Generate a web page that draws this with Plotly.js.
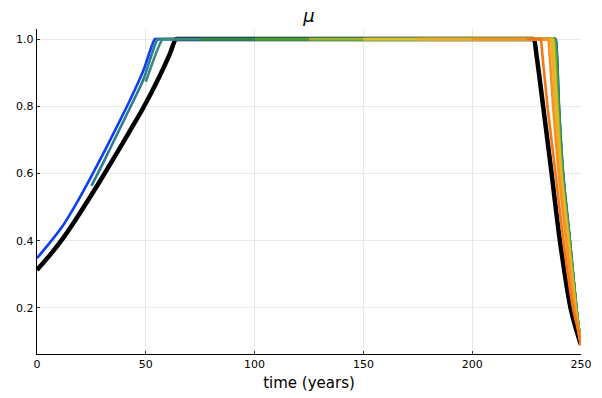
<!DOCTYPE html>
<html>
<head>
<meta charset="utf-8">
<script src="https://cdn.plot.ly/plotly-3.0.1.min.js"></script>
<style>html,body{margin:0;padding:0;background:#fff;}#chart{width:602px;height:398px;}</style>
</head>
<body>
<div id="chart"></div>
<script>
// Reference (black) path
const blackT = [0, 6, 12, 18.2, 24.4, 30.5, 36.6, 42.7, 48.8, 56, 61, 63.8, 65, 227.3, 228.3, 229.6, 232.6, 236.5, 240.3, 245.2, 247.6, 250];
const blackV = [0.313, 0.358, 0.408, 0.467, 0.53, 0.594, 0.66, 0.727, 0.795, 0.885, 0.955, 1, 1, 1, 1, 0.95, 0.8, 0.6, 0.4, 0.2, 0.14, 0.09];

// Paths started at different years
const s0T = [0, 6, 12.1, 18.2, 24.4, 30.5, 36.6, 42.7, 48.8, 54.2, 55.2, 237.3, 238.3, 239.0, 239.9, 241.8, 244.9, 247.9, 249, 250];
const s0V = [0.348, 0.395, 0.447, 0.512, 0.585, 0.66, 0.738, 0.818, 0.905, 1, 1, 1, 1, 0.95, 0.8, 0.6, 0.4, 0.2, 0.14, 0.09];
const s25T = [25, 30.8, 36.6, 42.7, 48.8, 55.5, 56.5, 237.2, 238.2, 238.9, 239.85, 241.75, 244.9, 247.9, 249, 250];
const s25V = [0.563, 0.637, 0.714, 0.795, 0.878, 1, 1, 1, 1, 0.95, 0.8, 0.6, 0.4, 0.2, 0.14, 0.09];
const s50T = [50, 57.8, 58.8, 237.1, 238.1, 238.8, 239.8, 241.7, 244.85, 247.9, 249, 250];
const s50V = [0.873, 1, 1, 1, 1, 0.95, 0.8, 0.6, 0.4, 0.2, 0.14, 0.09];
const s75T = [75, 236.9, 237.9, 238.6, 239.7, 241.6, 244.8, 247.85, 248.95, 250];
const s75V = [1, 1, 1, 0.95, 0.8, 0.6, 0.4, 0.2, 0.14, 0.09];
const s100T = [100, 236.7, 237.7, 238.4, 239.5, 241.4, 244.7, 247.8, 248.9, 250];
const s100V = [1, 1, 1, 0.95, 0.8, 0.6, 0.4, 0.2, 0.14, 0.09];
const s125T = [125, 236.3, 237.3, 238.0, 239.2, 241.2, 244.5, 247.7, 248.9, 250];
const s125V = [1, 1, 1, 0.95, 0.8, 0.6, 0.4, 0.2, 0.14, 0.09];
const s150T = [150, 235.8, 236.8, 237.5, 238.8, 240.9, 244.2, 247.5, 248.8, 250];
const s150V = [1, 1, 1, 0.95, 0.8, 0.6, 0.4, 0.2, 0.14, 0.09];
const s175T = [175, 235.0, 236.0, 236.8, 238.2, 240.5, 243.8, 247.3, 248.7, 250];
const s175V = [1, 1, 1, 0.95, 0.8, 0.6, 0.4, 0.2, 0.14, 0.09];
const s200T = [200, 233.8, 234.8, 235.6, 237.2, 239.8, 243.2, 247.0, 248.6, 250];
const s200V = [1, 1, 1, 0.95, 0.8, 0.6, 0.4, 0.2, 0.14, 0.09];
const s225T = [225, 230.3, 231.3, 232.3, 234.6, 238.3, 241.9, 246.3, 248.4, 250];
const s225V = [1, 1, 1, 0.95, 0.8, 0.6, 0.4, 0.2, 0.14, 0.09];

const seriesT = [s0T, s25T, s50T, s75T, s100T, s125T, s150T, s175T, s200T, s225T];
const seriesV = [s0V, s25V, s50V, s75V, s100V, s125V, s150V, s175V, s200V, s225V];
const seriesColors = ['#0b3ff0', '#2c7a9a', '#3a8b7c', '#2f8a45', '#4f9d2a', '#98b42a', '#dcc12a', '#f0ae28', '#f59220', '#f57414'];

const xTicks = [0, 50, 100, 150, 200, 250];
const yTicks = [0.2, 0.4, 0.6, 0.8, 1.0];
const yTickText = ['0.2', '0.4', '0.6', '0.8', '1.0'];

const traces = [{
  x: blackT, y: blackV, type: 'scatter', mode: 'lines',
  line: {color: '#000000', width: 4.5, shape: 'spline', smoothing: 0.8}, showlegend: false, hoverinfo: 'skip'
}];
for (let i = 0; i < seriesT.length; i++) {
  traces.push({
    x: seriesT[i], y: seriesV[i], type: 'scatter', mode: 'lines',
    line: {color: seriesColors[i], width: 2.6, shape: 'spline', smoothing: 0.8}, showlegend: false, hoverinfo: 'skip'
  });
}

const fontFam = 'DejaVu Sans, sans-serif';
const layout = {
  width: 602, height: 398,
  margin: {l: 37, r: 21, t: 29, b: 44, pad: 0},
  paper_bgcolor: '#ffffff', plot_bgcolor: '#ffffff',
  font: {family: fontFam, color: '#000000', size: 11},
  title: {text: '<i>μ</i>', font: {family: fontFam, size: 18, color: '#000'},
          x: 0.5, xref: 'paper', y: 1 - 16/398, yref: 'container', yanchor: 'middle'},
  xaxis: {
    range: [0, 250], tickvals: xTicks, ticktext: xTicks.map(String),
    showgrid: true, gridcolor: '#e8e8e8', gridwidth: 1,
    zeroline: false, showline: true, linecolor: '#000', linewidth: 1.2, mirror: false,
    ticks: 'inside', ticklen: 3, tickcolor: '#333', tickwidth: 1,
    tickfont: {size: 11, family: fontFam, color: '#000'},
    title: {text: 'time (years)', font: {size: 15, family: fontFam, color: '#000'}, standoff: 7}
  },
  yaxis: {
    range: [0.063, 1.03], tickvals: yTicks, ticktext: yTickText,
    showgrid: true, gridcolor: '#e8e8e8', gridwidth: 1,
    zeroline: false, showline: true, linecolor: '#000', linewidth: 1.2, mirror: false,
    ticks: 'inside', ticklen: 3, tickcolor: '#333', tickwidth: 1,
    tickfont: {size: 11, family: fontFam, color: '#000'}
  }
};

Plotly.newPlot('chart', traces, layout, {staticPlot: true, displayModeBar: false});
</script>
</body>
</html>
